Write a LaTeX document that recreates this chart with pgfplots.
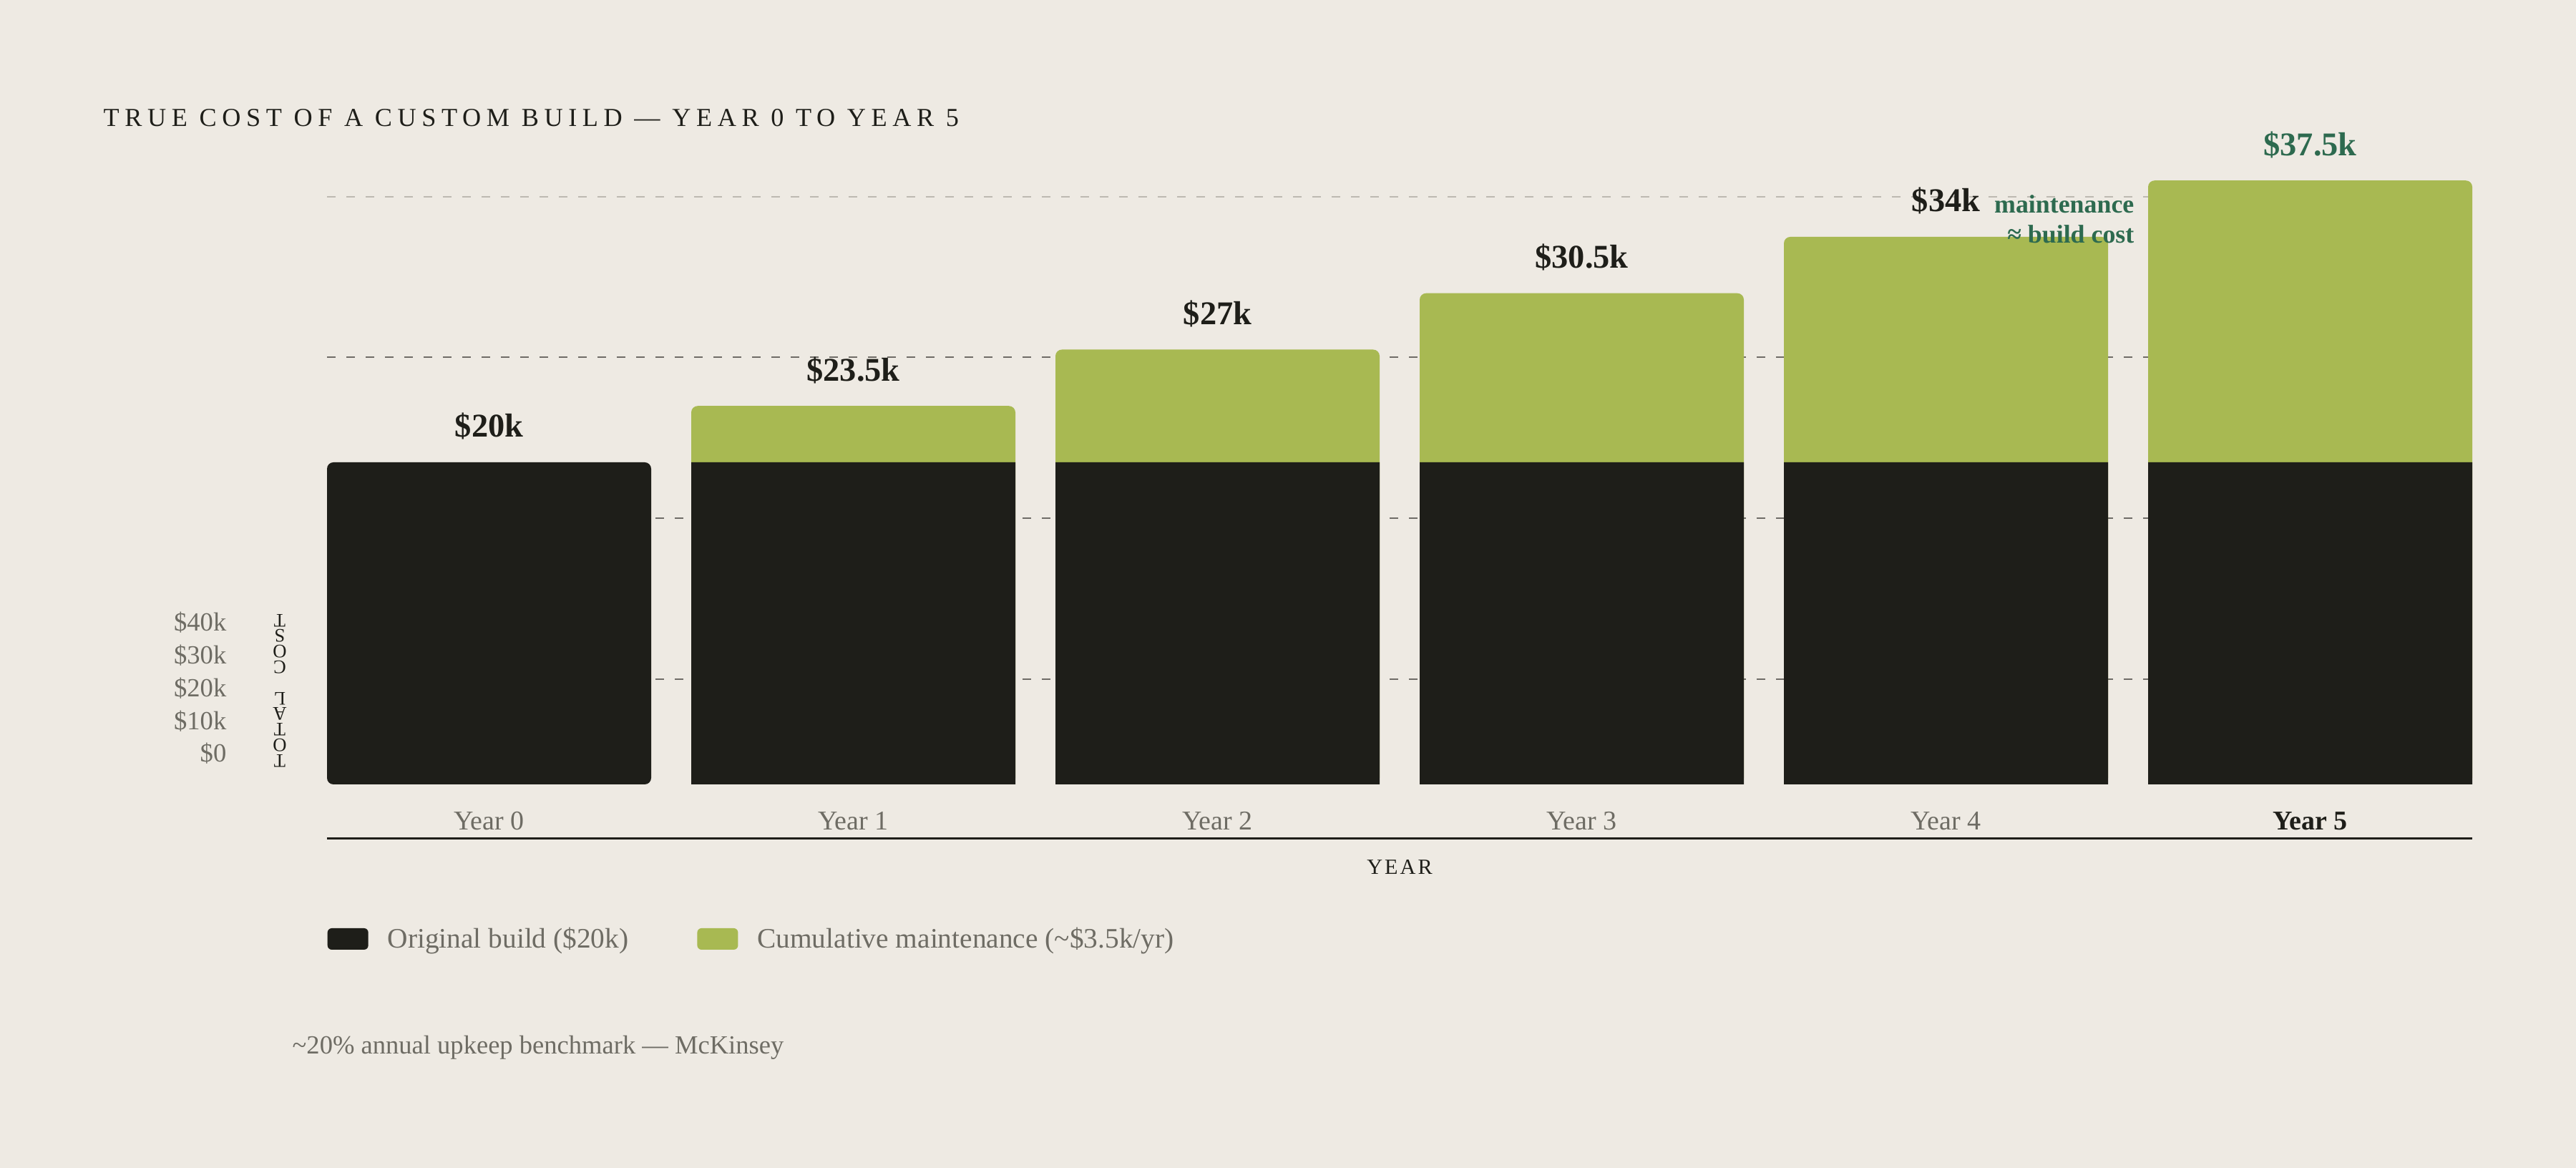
\documentclass[border=0pt]{standalone}
\usepackage{fontspec}
\setmainfont{Liberation Serif}
\usepackage{pgfplots}
\pgfplotsset{compat=1.18}

\definecolor{bg}{HTML}{EEEAE3}
\definecolor{ink}{HTML}{1E1E19}
\definecolor{olive}{HTML}{A8B952}
\definecolor{leaf}{HTML}{2D6A4F}
\definecolor{muted}{HTML}{6E6C64}
\definecolor{rulegray}{HTML}{6F6C67}
\definecolor{faint}{HTML}{BDB9B1}

\begin{document}
\begin{tikzpicture}
\fill[bg] (0,0) rectangle (36,16.32);

% title
\node[anchor=base west, inner sep=0pt, text=ink,
  font=\fontsize{10.3}{12}\selectfont\addfontfeatures{LetterSpace=21}]
  at (1.44,14.55) {TRUE COST OF A CUSTOM BUILD — YEAR 0 TO YEAR 5};

\begin{axis}[
  at={(4.57cm,5.36cm)}, anchor=south west,
  scale only axis, width=29.98cm, height=9.45cm,
  xmin=-0.445, xmax=5.445, ymin=1, ymax=43,
  axis line style={draw=none},
  major tick length=0pt, minor tick length=0pt,
  ybar, bar width=0.89,
  % bars start one unit below the clipped baseline, so their bottoms stay square
  y filter/.expression={y+1},
  xtick={0,...,5},
  xticklabels={Year 0,Year 1,Year 2,Year 3,Year 4,{\textcolor{ink}{\bfseries Year 5}}},
  xticklabel style={anchor=base, yshift=-0.64cm, text=muted, font=\fontsize{10.8}{13}\selectfont},
  ytick={2.38,4.42,6.46,8.50,10.54},
  yticklabels={\$0,\$10k,\$20k,\$30k,\$40k},
  yticklabel style={anchor=base east, inner sep=0pt, xshift=-1.40cm, text=muted, font=\fontsize{10.4}{12}\selectfont},
  extra y ticks={7.53,17.53,27.53},
  extra y tick labels={},
  extra y tick style={grid=major},
  major grid style={draw=rulegray, line width=0.55pt, dash pattern=on 0.12cm off 0.15cm},
  minor ytick={37.49},
  yminorgrids=true,
  minor grid style={draw=faint, line width=0.55pt, dash pattern=on 0.12cm off 0.15cm},
  legend style={at={(axis description cs:0,-0.2296)}, anchor=west, draw=none, fill=none,
    inner sep=0pt, legend columns=2, text=muted, font=\fontsize{11.2}{13}\selectfont,
    nodes={inner sep=0pt},
    /tikz/every odd column/.append style={column sep=0.27cm},
    /tikz/every even column/.append style={column sep=0.96cm}},
  legend image code/.code={\fill[#1, rounded corners=0.6mm] (0cm,-0.14cm) rectangle (0.57cm,0.16cm);},
]
\addplot[forget plot, fill=olive, draw=none, rounded corners=0.9mm, bar shift=0pt,
  nodes near coords, point meta=explicit symbolic,
  every node near coord/.append style={anchor=base, yshift=0.35cm, text=ink, font=\bfseries\fontsize{13.2}{15}\selectfont}]
  coordinates {(1,23.5) [\$23.5k] (2,27) [\$27k] (3,30.5) [\$30.5k] (4,34) [\$34k] (5,37.5) [\textcolor{leaf}{\$37.5k}]};
\addplot[forget plot, fill=ink, draw=none, bar shift=0pt]
  coordinates {(1,20) (2,20) (3,20) (4,20) (5,20)};
\addplot[forget plot, fill=ink, draw=none, rounded corners=0.9mm, bar shift=0pt,
  nodes near coords, point meta=explicit symbolic,
  every node near coord/.append style={anchor=base, yshift=0.35cm, text=ink, font=\bfseries\fontsize{13.2}{15}\selectfont}]
  coordinates {(0,20) [\$20k]};
\addlegendimage{fill=ink, draw=none}
\addlegendentry{Original build (\$20k)}
\addlegendimage{fill=olive, draw=none}
\addlegendentry{Cumulative maintenance (\textasciitilde\$3.5k/yr)}
\end{axis}

% baseline under the year labels
\draw[ink, line width=0.85pt] (4.57,4.605) -- (34.55,4.605);
\node[anchor=base, inner sep=0pt, text=ink, font=\fontsize{8.6}{10}\selectfont\addfontfeatures{LetterSpace=10}]
  at (19.56,4.10) {YEAR};
% vertical axis title, stacked and turned
\node[rotate=180, align=center, inner sep=0pt, text=ink, font=\fontsize{7.6}{6.2}\selectfont]
  at (3.91,6.67) {T\\O\\T\\A\\L\\\mbox{}\\C\\O\\S\\T};
% annotation
\node[anchor=base east, inner sep=0pt, text=leaf, font=\bfseries\fontsize{10.2}{12}\selectfont]
  at (29.83,13.34) {maintenance};
\node[anchor=base east, inner sep=0pt, text=leaf, font=\bfseries\fontsize{10.2}{12}\selectfont]
  at (29.83,12.92) {≈ build cost};
% source note
\node[anchor=base west, inner sep=0pt, text=muted, font=\fontsize{10.4}{12}\selectfont]
  at (4.08,1.59) {\textasciitilde 20\% annual upkeep benchmark — McKinsey};

\pgfresetboundingbox
\path[use as bounding box] (0,0) rectangle (36,16.32);
\end{tikzpicture}
\end{document}
